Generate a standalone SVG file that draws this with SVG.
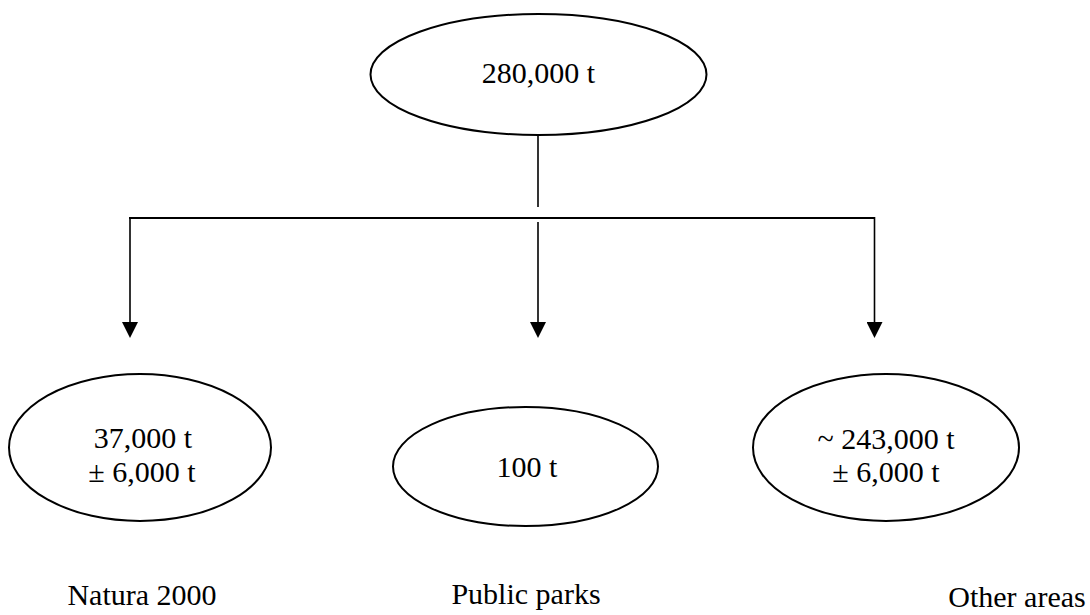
<svg xmlns="http://www.w3.org/2000/svg" width="1090" height="615" viewBox="0 0 1090 615">
<style>
.node ellipse{fill:#fff;stroke:#000;stroke-width:2}
text{font-family:"Liberation Serif","Times New Roman",serif;font-size:30px;fill:#000;text-anchor:middle}
.conn line{stroke:#000;stroke-width:1.6;fill:none}
.conn .bar{stroke-width:2.2}
</style>
<defs>
<marker id="arr" markerUnits="userSpaceOnUse" markerWidth="16" markerHeight="16" refX="0" refY="7.5" orient="auto" viewBox="0 0 15 15">
<path d="M0,0 L15,7.5 L0,15 z" fill="#000"/>
</marker>
</defs>
<rect width="1090" height="615" fill="#fff"/>
<g id="connectors" class="conn">
<line x1="538" y1="135" x2="538" y2="207"/>
<line class="bar" x1="129" y1="218" x2="875" y2="218"/>
<line x1="130" y1="217" x2="130" y2="322" marker-end="url(#arr)"/>
<line x1="538" y1="222" x2="538" y2="322" marker-end="url(#arr)"/>
<line x1="874.5" y1="217" x2="874.5" y2="322" marker-end="url(#arr)"/>
</g>
<g id="node-total" class="node">
<ellipse cx="538.5" cy="74.5" rx="168" ry="60.5"/>
<text x="538.5" y="83">280,000 t</text>
</g>
<g id="node-natura" class="node">
<ellipse cx="140" cy="447.5" rx="131" ry="73.5"/>
<text x="143" y="448">37,000 t</text>
<text x="142" y="482">± 6,000 t</text>
</g>
<g id="node-parks" class="node">
<ellipse cx="525.5" cy="466.5" rx="132.5" ry="59.5"/>
<text x="527" y="477">100 t</text>
</g>
<g id="node-other" class="node">
<ellipse cx="886" cy="447.5" rx="133" ry="73.5"/>
<text x="886" y="449">~ 243,000 t</text>
<text x="886" y="482">± 6,000 t</text>
</g>
<g id="labels">
<text x="142" y="605">Natura 2000</text>
<text x="526" y="604">Public parks</text>
<text x="1017" y="607">Other areas</text>
</g>
</svg>
